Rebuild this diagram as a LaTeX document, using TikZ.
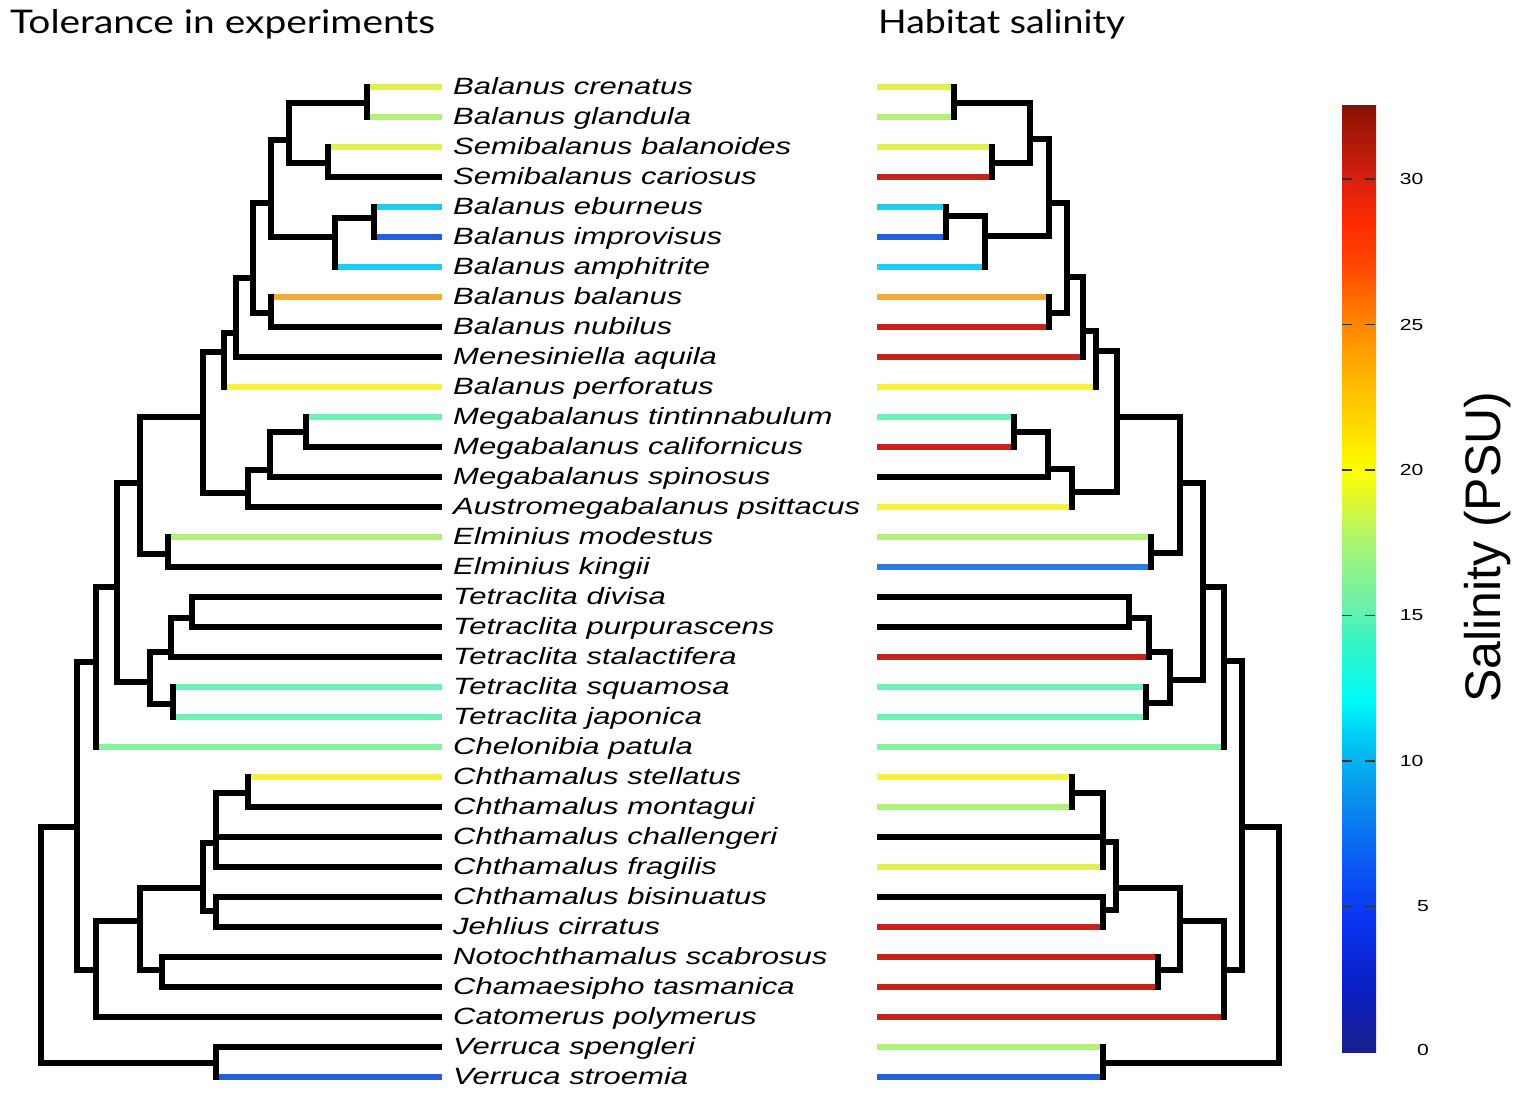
\documentclass[tikz,border=0pt]{standalone}
\usepackage{fontspec}
\setmainfont{Liberation Sans}
\newfontfamily\titlefont{Lato}
\usepackage{graphicx}
\definecolor{cYG}{HTML}{E0F050}
\definecolor{cLG}{HTML}{B2F077}
\definecolor{cY}{HTML}{F4F23E}
\definecolor{cCy}{HTML}{1ECDF0}
\definecolor{cBl}{HTML}{1F5FE0}
\definecolor{cBl2}{HTML}{2A7DE0}
\definecolor{cOr}{HTML}{F5AC35}
\definecolor{cAq}{HTML}{6DF2B5}
\definecolor{cGr}{HTML}{88F2A2}
\definecolor{cRd}{HTML}{C8231A}
\definecolor{tickc}{HTML}{303030}
% colour bar stops
\definecolor{sbA}{HTML}{1A1F8C}
\definecolor{sbB}{HTML}{0A1EC0}
\definecolor{sbC}{HTML}{0A32F0}
\definecolor{sbD}{HTML}{0A5AF5}
\definecolor{sbE}{HTML}{0A96EE}
\definecolor{sbF}{HTML}{00D0F5}
\definecolor{sbG}{HTML}{00FAFA}
\definecolor{sbH}{HTML}{30F5C8}
\definecolor{sbI}{HTML}{70F0A8}
\definecolor{sbJ}{HTML}{A8F570}
\definecolor{sbK}{HTML}{E0F830}
\definecolor{sbL}{HTML}{FFFF00}
\definecolor{sbM}{HTML}{FFD000}
\definecolor{sbN}{HTML}{FFA000}
\definecolor{sbO}{HTML}{FF7800}
\definecolor{sbP}{HTML}{FF4800}
\definecolor{sbQ}{HTML}{FF2A00}
\definecolor{sbR}{HTML}{D82010}
\definecolor{sbS}{HTML}{A81808}
\definecolor{sbT}{HTML}{8A1000}
\pgfdeclareverticalshading{salin}{100bp}{color(0bp)=(sbA); color(25bp)=(sbA);
 color(28.1bp)=(sbB); color(31.9bp)=(sbC); color(35bp)=(sbD); color(38.8bp)=(sbE);
 color(41.9bp)=(sbF); color(43.5bp)=(sbG); color(46.5bp)=(sbH); color(48.8bp)=(sbI);
 color(51.9bp)=(sbJ); color(54.2bp)=(sbK); color(55.7bp)=(sbL); color(58.8bp)=(sbM);
 color(61.9bp)=(sbN); color(64.2bp)=(sbO); color(66.5bp)=(sbP); color(68.8bp)=(sbQ);
 color(71.1bp)=(sbR); color(73.4bp)=(sbS); color(75bp)=(sbT); color(100bp)=(sbT)}
\newcommand\spname[1]{\scalebox{1.32}[1]{\fontsize{23.5}{24}\selectfont\itshape #1}}
\newcommand\ticklab[1]{\scalebox{1.32}[1]{\fontsize{16}{16}\selectfont #1}}
\newcommand\hb[2]{\draw[br] (#1 |- #2) -- (#2);}
\newcommand\vb[3]{\draw[vt] (#1 |- #2) -- (#1 |- #3);}
\newcommand\treeinner[1]{%
  \foreach \na/\nb in {nAB/n01,nAB/n23,nC/n45,nABC/nAB,nABC/nC,nD/nABC,nD/n78,nE/nD,nF/nE,
    n13/n1112,n14/n13,nG/nF,nG/n14,nH/nG,nH/n1516,n19/n1718,nTet/n19,nTet/n2021,nI/nH,nI/nTet,
    nJ/nI,nCh1/n2324,nCh/nCh1,nCh/n2728,nL/nCh,nL/n2930,nM/nL,nK/nJ,nK/nM,nRoot/nK,nRoot/n3233}
    {\hb{#1\na}{#1\nb}}
  \foreach \na/\nb/\nc in {n01/t0/t1,n23/t2/t3,nAB/n01/n23,n45/t4/t5,nC/n45/t6,nABC/nAB/nC,
    n78/t7/t8,nD/nABC/n78,nE/nD/t9,nF/nE/t10,n1112/t11/t12,n13/n1112/t13,n14/n13/t14,nG/nF/n14,
    n1516/t15/t16,nH/nG/n1516,n1718/t17/t18,n19/n1718/t19,n2021/t20/t21,nTet/n19/n2021,nI/nH/nTet,
    nJ/nI/t22,n2324/t23/t24,nCh1/n2324/t26,n2728/t27/t28,nCh/nCh1/n2728,n2930/t29/t30,nL/nCh/n2930,
    nM/nL/t31,nK/nJ/nM,n3233/t32/t33,nRoot/nK/n3233}
    {\vb{#1\na}{#1\nb}{#1\nc}}
}
\begin{document}
\begin{tikzpicture}[x=1pt,y=-1pt,
  br/.style={line width=5.6pt,draw=black},
  vt/.style={line width=6.5pt,line cap=rect,draw=black},
  tipln/.style={line width=5.2pt},
  lab/.style={anchor=base west,inner sep=0pt,text=black},
  tick/.style={line width=1.3pt,draw=tickc,dash pattern=on 10pt off 13pt}]
\useasboundingbox[fill=white] (0,0) rectangle (1535,1101);
% titles
\node[lab] (title1) at (10,33) {\resizebox{425pt}{24pt}{\titlefont Tolerance in experiments}};
\node[lab] (title2) at (878,33) {\resizebox{247pt}{24pt}{\titlefont Habitat salinity}};
% tip coordinates
\foreach \ii in {0,...,33}{
  \coordinate (at\ii) at (442,{87+30*\ii});
  \coordinate (bt\ii) at (877,{87+30*\ii});
}
% internal nodes, left tree
\foreach \na/\xx/\yy in {n01/367/103,n23/328/163,nAB/289/140,n45/374/218,nC/335/237,nABC/271/203,
  n78/271/313,nD/253/278,nE/236/333,nF/224/352,n1112/306/432,n13/270/470,n14/248/493,nG/203/417,
  n1516/168/554,nH/140/483,n1718/192/618,n19/171/652,n2021/173/704,nTet/150/682,nI/117/587,
  nJ/96/662,n2324/248/793,nCh1/216/843,n2728/216/911,nCh/203/888,n2930/162/970,nL/140/921,
  nM/96/970,nK/77/827,n3233/216/1063,nRoot/41/945}
  {\coordinate (a\na) at (\xx,\yy);}
% internal nodes, right tree
\foreach \na/\xx/\yy in {n01/954/103,n23/992/163,nAB/1030/139,n45/946/216,nC/985/236,nABC/1049/203,
  n78/1049/313,nD/1067/277,nE/1083/331,nF/1096/351,n1112/1014/432,n13/1048/469,n14/1072/492,
  nG/1117/417,n1516/1151/553,nH/1180/483,n1718/1129/618,n19/1149/652,n2021/1146/703,nTet/1170/680,
  nI/1203/587,nJ/1224/661,n2324/1072/793,nCh1/1103/842,n2728/1103/910,nCh/1116/888,n2930/1158/970,
  nL/1180/921,nM/1224/970,nK/1242/827,n3233/1103/1063,nRoot/1279/945}
  {\coordinate (b\na) at (\xx,\yy);}
% tip branches, left
\foreach \ii/\pp/\cc in {0/n01/cYG,1/n01/cLG,2/n23/cYG,3/n23/black,4/n45/cCy,5/n45/cBl,6/nC/cCy,
  7/n78/cOr,8/n78/black,9/nE/black,10/nF/cY,11/n1112/cAq,12/n1112/black,13/n13/black,14/n14/black,
  15/n1516/cLG,16/n1516/black,17/n1718/black,18/n1718/black,19/n19/black,20/n2021/cAq,21/n2021/cAq,
  22/nJ/cGr,23/n2324/cY,24/n2324/black,25/nCh1/black,26/nCh1/black,27/n2728/black,28/n2728/black,
  29/n2930/black,30/n2930/black,31/nM/black,32/n3233/black,33/n3233/cBl}
  {\draw[tipln,draw=\cc] (a\pp |- at\ii) -- (at\ii);}
% tip branches, right
\foreach \ii/\pp/\cc in {0/n01/cYG,1/n01/cLG,2/n23/cYG,3/n23/cRd,4/n45/cCy,5/n45/cBl,6/nC/cCy,
  7/n78/cOr,8/n78/cRd,9/nE/cRd,10/nF/cY,11/n1112/cAq,12/n1112/cRd,13/n13/black,14/n14/cY,
  15/n1516/cLG,16/n1516/cBl2,17/n1718/black,18/n1718/black,19/n19/cRd,20/n2021/cAq,21/n2021/cAq,
  22/nJ/cGr,23/n2324/cY,24/n2324/cLG,25/nCh1/black,26/nCh1/cYG,27/n2728/black,28/n2728/cRd,
  29/n2930/cRd,30/n2930/cRd,31/nM/cRd,32/n3233/cLG,33/n3233/cBl}
  {\draw[tipln,draw=\cc] (b\pp |- bt\ii) -- (bt\ii);}
% internal branches
\treeinner{a}
\treeinner{b}
% species labels
\foreach \nm [count=\ii from 0] in {Balanus crenatus,Balanus glandula,Semibalanus balanoides,
  Semibalanus cariosus,Balanus eburneus,Balanus improvisus,Balanus amphitrite,Balanus balanus,
  Balanus nubilus,Menesiniella aquila,Balanus perforatus,Megabalanus tintinnabulum,
  Megabalanus californicus,Megabalanus spinosus,Austromegabalanus psittacus,Elminius modestus,
  Elminius kingii,Tetraclita divisa,Tetraclita purpurascens,Tetraclita stalactifera,
  Tetraclita squamosa,Tetraclita japonica,Chelonibia patula,Chthamalus stellatus,
  Chthamalus montagui,Chthamalus challengeri,Chthamalus fragilis,Chthamalus bisinuatus,
  Jehlius cirratus,Notochthamalus scabrosus,Chamaesipho tasmanica,Catomerus polymerus,
  Verruca spengleri,Verruca stroemia}
  {\node[lab] (s\ii) at (453,{94+30*\ii}) {\spname{\nm}};}
% colour bar
\coordinate (cbTL) at (1342,105);
\coordinate (cbBR) at (1376,1052);
\shade[shading=salin] (cbTL) rectangle (cbBR);
\foreach \vv in {5,10,...,30}
  {\draw[tick] (1342,{1052-29.1*\vv}) -- (1376,{1052-29.1*\vv});}
\foreach \vv in {10,15,20,25,30}
  {\node[inner sep=0pt] (k\vv) at (1411.5,{1052-29.1*\vv}) {\ticklab{\vv}};}
\node[inner sep=0pt] (k5) at (1423,{1052-29.1*5}) {\ticklab{5}};
\node[inner sep=0pt] (k0) at (1423,1050) {\ticklab{0}};
\node[rotate=90,anchor=base west,inner sep=0pt] (sal) at (1500,703)
  {\fontsize{50}{50}\selectfont Salinity (PSU)};
\end{tikzpicture}
\end{document}
